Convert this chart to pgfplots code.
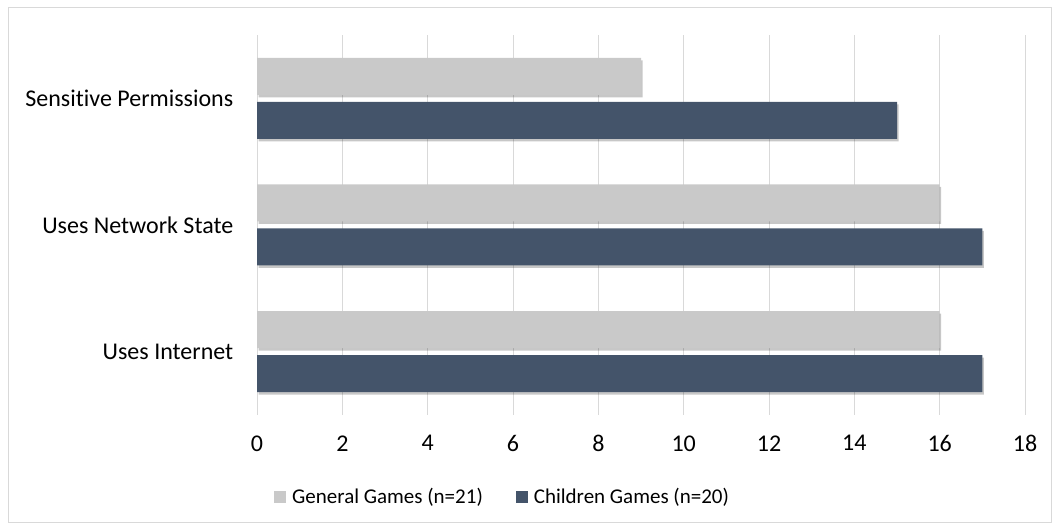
\documentclass[border=0pt]{standalone}
\usepackage{pgfplots}
\pgfplotsset{compat=1.18}
\usepackage{fontspec}
\setmainfont{Carlito}[Ligatures=NoCommon]

\definecolor{ggray}{HTML}{C9C9C9}
\definecolor{ddark}{HTML}{44546A}
\definecolor{gridc}{HTML}{D9D9D9}

\begin{document}
\begin{tikzpicture}[x=1bp,y=1bp]
    \path (0,0) rectangle (1059,531);
    \draw[gridc, line width=1bp] (8,8) rectangle (1051,523);
    \begin{axis}[
        at={(257bp,116bp)}, anchor=south west,
        scale only axis,
        width=768bp, height=380bp,
        xmin=0, xmax=18,
        ymin=-0.5, ymax=2.5,
        xtick={0,2,...,18},
        ytick={0,1,2},
        yticklabels={Uses Internet, Uses Network State, Sensitive Permissions},
        axis line style={draw=none},
        major tick style={draw=none},
        xmajorgrids,
        grid style={gridc, line width=1bp},
        xbar,
        bar width=37bp,
        /pgf/number format/assume math mode=true,
        ticklabel style={font=\fontsize{24bp}{28bp}\selectfont},
        yticklabel style={xshift=-16bp},
        xticklabel style={yshift=-17bp},
        legend columns=2,
        legend style={
            at={(rel axis cs:0.0221,-0.2158)}, anchor=west,
            draw=none, inner sep=0pt,
            font=\fontsize{21bp}{25bp}\selectfont,
            /tikz/every odd column/.append style={column sep=4bp},
            /tikz/every even column/.append style={column sep=31bp}
        }
    ]
        % soft shadows under the bars
        \addplot[forget plot, fill=black, opacity=0.22, draw=none,
            bar shift=19.5bp, xshift=1.5bp]
        coordinates {(16,0) (16,1) (9,2)};
        \addplot[forget plot, fill=black, opacity=0.22, draw=none,
            bar shift=-24.5bp, xshift=1.5bp]
        coordinates {(17,0) (17,1) (15,2)};

        \addplot[fill=ggray, draw=none, bar shift=22bp,
            legend image code/.code={\fill[ggray] (0bp,-6bp) rectangle (12bp,6bp);}]
        coordinates {(16,0) (16,1) (9,2)};
        \addplot[fill=ddark, draw=none, bar shift=-22bp,
            legend image code/.code={\fill[ddark] (0bp,-6bp) rectangle (12bp,6bp);}]
        coordinates {(17,0) (17,1) (15,2)};
        \legend{General Games (n=21), Children Games (n=20)}
    \end{axis}
\end{tikzpicture}
\end{document}
